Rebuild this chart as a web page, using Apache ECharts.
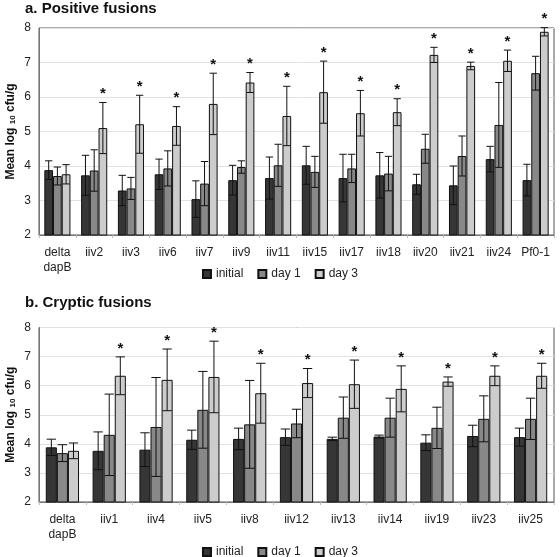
<!DOCTYPE html>
<html><head><meta charset="utf-8">
<script src="https://cdn.jsdelivr.net/npm/echarts@6/dist/echarts.min.js"></script>
<style>html,body{margin:0;padding:0;background:#fff}#c{width:560px;height:557px}</style>
</head><body><div id="c"></div>
<script>
// ---- Panel a: Positive fusions ----
var catsA = ['delta\ndapB','iiv2','iiv3','iiv6','iiv7','iiv9','iiv11','iiv15','iiv17','iiv18','iiv20','iiv21','iiv24','Pf0-1'];
var initA    = [3.88,3.73,3.29,3.76,3.04,3.59,3.65,4.02,3.65,3.73,3.47,3.44,4.20,3.59];
var initErrA = [0.27,0.58,0.44,0.44,0.53,0.43,0.61,0.55,0.69,0.66,0.29,0.56,0.37,0.46];
var day1A    = [3.71,3.87,3.35,3.93,3.49,3.97,4.02,3.83,3.93,3.78,4.50,4.29,5.19,6.69];
var day1ErrA = [0.26,0.60,0.32,0.51,0.64,0.18,0.61,0.45,0.41,0.50,0.42,0.58,1.23,0.49];
var day3A    = [3.76,5.10,5.21,5.16,5.80,6.42,5.45,6.14,5.53,5.56,7.22,6.90,7.05,7.89];
var day3ErrA = [0.28,0.74,0.84,0.56,0.89,0.29,0.86,0.90,0.66,0.39,0.22,0.11,0.31,0.12];
var sigA     = [0,1,1,1,1,1,1,1,1,1,1,1,1,1];

// ---- Panel b: Cryptic fusions ----
var catsB = ['delta\ndapB','iiv1','iiv4','iiv5','iiv8','iiv12','iiv13','iiv14','iiv19','iiv23','iiv25'];
var initB    = [3.88,3.76,3.80,4.14,4.17,4.23,4.17,4.25,4.04,4.27,4.23];
var initErrB = [0.28,0.65,0.58,0.33,0.37,0.28,0.06,0.05,0.27,0.37,0.31];
var day1B    = [3.68,4.31,4.58,5.17,4.67,4.70,4.90,4.90,4.55,4.86,4.86];
var day1ErrB = [0.29,1.40,1.70,1.32,1.51,0.49,0.71,0.67,0.71,0.79,0.71];
var day3B    = [3.76,6.34,6.20,6.30,5.74,6.09,6.05,5.89,6.14,6.34,6.34];
var day3ErrB = [0.27,0.65,1.06,1.23,1.03,0.50,0.83,0.79,0.16,0.34,0.43];
var sigB     = [0,1,1,1,1,1,1,1,1,1,1];

var seriesNames = ['initial','day 1','day 3'];
var colors = ['#363636','#888888','#cccccc'];
var titles = ['a. Positive fusions','b. Cryptic fusions'];

var FONT = 'Liberation Sans, Arial, sans-serif';
var GROUP = 0.71;

function errSeries(idx, offset, means, errs, sig){
  var data = means.map(function(m,i){ return [i, m, errs[i], sig ? sig[i] : 0]; });
  return {
    type:'custom', xAxisIndex:idx, yAxisIndex:idx, z:5, clip:false,
    silent:true, encode:{x:0,y:1},
    data:data,
    renderItem:function(params, api){
      var xi = api.value(0), m = api.value(1), e = api.value(2), s = api.value(3);
      var band = api.size([1,0])[0];
      var bw = band*GROUP/3;
      var cx = api.coord([xi, m])[0] + offset*bw;
      var yt = api.coord([xi, m+e])[1];
      var yb = api.coord([xi, m-e])[1];
      var cw = bw*0.42;
      var st = {stroke:'#111', lineWidth:1};
      var ch = [
        {type:'line', shape:{x1:cx,y1:yt,x2:cx,y2:yb}, style:st},
        {type:'line', shape:{x1:cx-cw,y1:yt,x2:cx+cw,y2:yt}, style:st},
        {type:'line', shape:{x1:cx-cw,y1:yb,x2:cx+cw,y2:yb}, style:st}
      ];
      if (s) ch.push({type:'text', style:{text:'*', x:cx, y:yt-1, align:'center', verticalAlign:'bottom',
        font:'bold 15px '+FONT, fill:'#111'}});
      return {type:'group', children:ch};
    }
  };
}

function barSeries(idx, k, vals){
  return {
    name:seriesNames[k], type:'bar', xAxisIndex:idx, yAxisIndex:idx,
    data:vals, barGap:'0%', barCategoryGap:'29%',
    itemStyle:{color:colors[k], borderColor:'#111', borderWidth:1},
    emphasis:{disabled:true}
  };
}

var grids = [
  {left:39, right:6, top:28, height:207, show:true, borderColor:'#555', borderWidth:1, containLabel:false, outerBoundsMode:'none'},
  {left:39, right:6, top:327.5, height:174.5, show:true, borderColor:'#555', borderWidth:1, containLabel:false, outerBoundsMode:'none'}
];

function xAx(idx, cats){
  return {type:'category', gridIndex:idx, data:cats,
    axisLine:{lineStyle:{color:'#777'}},
    axisTick:{show:true, length:3, lineStyle:{color:'#bbb'}},
    axisLabel:{color:'#222', fontSize:12, fontFamily:FONT, margin:10, lineHeight:15, interval:0}
  };
}
function yAx(idx){
  return {type:'value', gridIndex:idx, min:2, max:8, interval:1,
    axisLine:{show:true, lineStyle:{color:'#777'}},
    axisTick:{show:false},
    splitLine:{lineStyle:{color:'#e2e2e2'}},
    axisLabel:{color:'#222', fontSize:12, fontFamily:FONT, margin:8},
    name:'{a|Mean log }{b|10}{a| cfu/g}', nameLocation:'middle', nameGap:22, nameMoveOverlap:false,
    nameTextStyle:{rich:{
      a:{fontSize:12, fontWeight:'bold', fontFamily:FONT, color:'#111'},
      b:{fontSize:8, fontWeight:'bold', fontFamily:FONT, color:'#111', padding:[3,0,0,0]}
    }}
  };
}

var legendCommon = {data:seriesNames, left:'center', icon:'rect', itemWidth:8, itemHeight:8, itemGap:14,
  textStyle:{fontSize:12, fontFamily:FONT, color:'#222'}, selectedMode:false};

var option = {
  animation:false,
  title:[
    {text:titles[0], left:20, top:-4, textStyle:{fontSize:15, fontWeight:'bold', fontFamily:FONT, color:'#111'}},
    {text:titles[1], left:20, top:290, textStyle:{fontSize:15, fontWeight:'bold', fontFamily:FONT, color:'#111'}}
  ],
  legend:[
    Object.assign({top:263}, legendCommon),
    Object.assign({top:541}, legendCommon)
  ],
  grid:grids,
  xAxis:[xAx(0,catsA), xAx(1,catsB)],
  yAxis:[yAx(0), yAx(1)],
  series:[
    barSeries(0,0,initA), barSeries(0,1,day1A), barSeries(0,2,day3A),
    barSeries(1,0,initB), barSeries(1,1,day1B), barSeries(1,2,day3B),
    errSeries(0,-1,initA,initErrA,null), errSeries(0,0,day1A,day1ErrA,null), errSeries(0,1,day3A,day3ErrA,sigA),
    errSeries(1,-1,initB,initErrB,null), errSeries(1,0,day1B,day1ErrB,null), errSeries(1,1,day3B,day3ErrB,sigB)
  ]
};
var chart = echarts.init(document.getElementById('c'), null, {renderer:'canvas'});
chart.setOption(option);
</script></body></html>
